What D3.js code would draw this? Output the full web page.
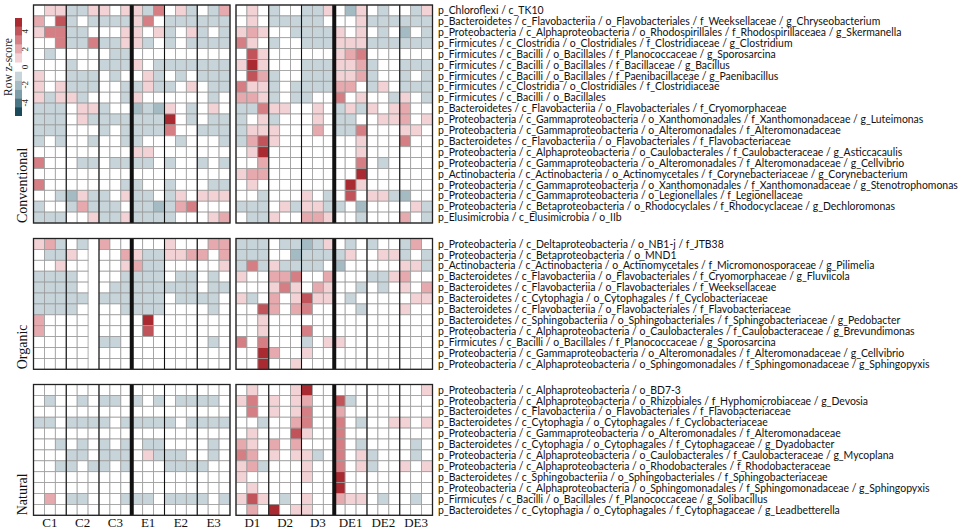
<!DOCTYPE html>
<html>
<head>
<meta charset="utf-8">
<script src="https://cdn.jsdelivr.net/npm/d3@7"></script>
<style>
  body { margin: 0; background: #fff; }
  svg { display: block; }
</style>
</head>
<body>
<script>
// sample groups, 3 replicates each
const leftGroups = ['C1', 'C2', 'C3', 'E1', 'E2', 'E3']
const rightGroups = ['D1', 'D2', 'D3', 'DE1', 'DE2', 'DE3']
const reps = [1, 2, 3]

const legendTicks = [4, 2, 0, -2, -4]

// row z-scores, 18 left samples then 18 right samples per taxon (null = missing)
const conventionalTaxa = [
  'p_Chloroflexi / c_TK10',
  'p_Bacteroidetes / c_Flavobacteriia / o_Flavobacteriales / f_Weeksellaceae / g_Chryseobacterium',
  'p_Proteobacteria / c_Alphaproteobacteria / o_Rhodospirillales / f_Rhodospirillaceaea / g_Skermanella',
  'p_Firmicutes / c_Clostridia / o_Clostridiales / f_Clostridiaceae / g_Clostridium',
  'p_Firmicutes / c_Bacilli / o_Bacillales / f_Planococcaceae / g_Sporosarcina',
  'p_Firmicutes / c_Bacilli / o_Bacillales / f_Bacillaceae / g_Bacillus',
  'p_Firmicutes / c_Bacilli / o_Bacillales / f_Paenibacillaceae / g_Paenibacillus',
  'p_Firmicutes / c_Clostridia / o_Clostridiales / f_Clostridiaceae',
  'p_Firmicutes / c_Bacilli / o_Bacillales',
  'p_Bacteroidetes / c_Flavobacteriia / o_Flavobacteriales / f_Cryomorphaceae',
  'p_Proteobacteria / c_Gammaproteobacteria / o_Xanthomonadales / f_Xanthomonadaceae / g_Luteimonas',
  'p_Proteobacteria / c_Gammaproteobacteria / o_Alteromonadales / f_Alteromonadaceae',
  'p_Bacteroidetes / c_Flavobacteriia / o_Flavobacteriales / f_Flavobacteriaceae',
  'p_Proteobacteria / c_Alphaproteobacteria / o_Caulobacterales / f_Caulobacteraceae / g_Asticcacaulis',
  'p_Proteobacteria / c_Gammaproteobacteria / o_Alteromonadales / f_Alteromonadaceae / g_Cellvibrio',
  'p_Actinobacteria / c_Actinobacteria / o_Actinomycetales / f_Corynebacteriaceae / g_Corynebacterium',
  'p_Proteobacteria / c_Gammaproteobacteria / o_Xanthomonadales / f_Xanthomonadaceae / g_Stenotrophomonas',
  'p_Proteobacteria / c_Gammaproteobacteria / o_Legionellales / f_Legionellaceae',
  'p_Proteobacteria / c_Betaproteobacteria / o_Rhodocyclales / f_Rhodocyclaceae / g_Dechloromonas',
  'p_Elusimicrobia / c_Elusimicrobia / o_IIb',
]
const conventionalZ = [
  [0,1,1,-1,-1,1,1,0,1,1,-1,3,0,1,-1,0,-1,2, 0,1,0,-1,0,0,-1,-1,1,0,-2,1,0,-1,0,0,-1,1],
  [2,0,4,-1,0,-1,-1,-1,-1,1,3,0,-1,-1,-1,-1,-1,-1, 0,1,0,-1,-1,-1,-1,-1,0,0,0,1,-1,-1,-1,-1,-1,-1],
  [1,3,3,-1,-1,0,0,0,1,1,0,1,-1,0,1,-1,0,-1, 1,2,1,0,0,-1,-1,-1,-1,1,0,1,0,-1,0,-2,0,-1],
  [0,0,3,-1,-1,3,-1,-1,1,1,-1,0,-1,0,-1,-1,-1,-1, 3,1,0,-1,0,0,-1,-1,-1,1,1,1,-1,-1,-1,-1,-1,-1],
  [0,-1,0,0,0,0,0,-1,-1,0,0,0,0,0,0,0,0,0, 0,4,1,0,0,0,0,0,0,1,2,3,0,0,0,0,0,0],
  [0,0,0,-1,0,0,-1,-1,-1,1,0,-1,-1,-1,-1,-1,-1,-1, 1,5,1,0,0,0,-1,-1,-1,1,1,2,-1,0,0,-1,-1,-1],
  [1,0,0,-1,-1,-1,0,-1,0,0,1,-1,0,-1,0,-1,-1,-1, 0,4,2,-1,0,0,-1,-1,-1,1,1,2,-1,0,0,-1,0,-1],
  [1,0,1,-1,-1,-1,0,0,-1,-1,1,-1,-1,0,1,0,-1,-1, 3,1,1,-1,0,-1,-1,-1,-1,2,2,0,-1,1,0,-1,-1,-1],
  [1,-1,1,1,-1,0,0,0,-1,1,0,0,0,0,0,0,-1,0, 2,2,1,-1,0,-1,-1,0,0,3,0,1,0,0,-1,1,0,-1],
  [-1,-1,-1,0,1,1,-1,0,0,-2,-1,-2,1,0,-1,0,1,0, -1,-1,3,1,1,0,0,1,0,-1,1,-1,1,0,1,2,0,0],
  [-1,-1,-1,0,1,-1,-1,-1,-1,-1,-1,-1,5,0,-1,0,-1,-1, -1,0,1,-1,0,0,0,1,0,-1,-1,0,0,1,1,2,0,1],
  [-1,-1,-1,0,0,0,-1,0,-1,-1,-1,-1,3,0,0,-1,-1,-1, -1,1,1,1,0,0,0,2,0,-1,-1,3,0,0,0,1,1,0],
  [-1,0,-1,0,0,-1,0,0,-1,-1,0,0,0,-1,0,0,0,-1, -1,2,4,1,0,0,0,0,0,0,0,1,0,0,0,3,0,0],
  [0,0,0,0,0,0,0,0,0,1,1,0,0,0,0,0,0,0, 0,1,5,0,0,0,0,0,0,0,0,1,0,0,0,0,0,0],
  [3,0,0,0,-1,-1,0,-1,-1,-1,-1,0,-1,0,0,-1,0,-1, 0,0,2,0,0,0,0,0,0,0,0,3,0,-1,0,0,0,0],
  [0,0,0,0,0,0,0,0,0,0,0,0,0,0,0,0,0,0, 1,2,2,0,0,0,0,0,0,0,0,5,0,0,0,0,0,0],
  [3,0,0,0,0,0,0,0,-1,-1,0,0,-1,0,0,0,-1,-1, 0,1,0,0,0,0,0,0,0,0,5,1,0,0,0,0,0,0],
  [0,0,-1,-2,1,-1,-1,0,1,-1,-1,0,-1,1,0,1,1,1, 0,0,-1,0,0,0,1,0,-1,0,4,0,1,1,-1,-2,0,0],
  [-1,0,0,-1,2,-1,-1,-1,0,-1,-1,-2,-1,2,3,0,0,0, -1,-1,-1,0,1,-1,1,1,-1,-1,0,-2,0,0,0,0,1,-1],
  [-1,-1,-1,0,0,1,-1,-1,1,-1,-1,-1,-1,0,0,0,1,2, 0,-1,-1,1,0,0,2,2,1,0,0,-1,0,0,0,2,0,-1],
]

const organicTaxa = [
  'p_Proteobacteria / c_Deltaproteobacteria / o_NB1-j / f_JTB38',
  'p_Proteobacteria / c_Betaproteobacteria / o_MND1',
  'p_Actinobacteria / c_Actinobacteria / o_Actinomycetales / f_Micromonosporaceae / g_Pilimelia',
  'p_Bacteroidetes / c_Flavobacteriia / o_Flavobacteriales / f_Cryomorphaceae / g_Fluviicola',
  'p_Bacteroidetes / c_Flavobacteriia / o_Flavobacteriales / f_Weeksellaceae',
  'p_Bacteroidetes / c_Cytophagia / o_Cytophagales / f_Cyclobacteriaceae',
  'p_Bacteroidetes / c_Flavobacteriia / o_Flavobacteriales / f_Flavobacteriaceae',
  'p_Bacteroidetes / c_Sphingobacteriia / o_Sphingobacteriales / f_Sphingobacteriaceae / g_Pedobacter',
  'p_Proteobacteria / c_Alphaproteobacteria / o_Caulobacterales / f_Caulobacteraceae / g_Brevundimonas',
  'p_Firmicutes / c_Bacilli / o_Bacillales / f_Planococcaceae / g_Sporosarcina',
  'p_Proteobacteria / c_Gammaproteobacteria / o_Alteromonadales / f_Alteromonadaceae / g_Cellvibrio',
  'p_Proteobacteria / c_Alphaproteobacteria / o_Sphingomonadales / f_Sphingomonadaceae / g_Sphingopyxis',
]
const organicZ = [
  [1,2,-1,0,-1,null,2,0,0,0,0,0,1,0,0,0,2,2, -1,-1,-1,0,-1,-1,-2,-1,1,0,-1,0,-1,0,0,-1,2,0],
  [0,-1,-1,1,0,null,0,0,2,1,-1,-1,1,1,2,2,0,2, -1,-1,-1,0,0,-2,-1,-1,-1,-1,1,0,0,1,1,-1,0,-1],
  [0,0,1,0,0,null,0,0,1,2,-1,-1,0,0,0,0,0,1, -1,3,-1,1,-1,-1,-1,-1,0,-2,0,0,0,0,0,1,1,-1],
  [-1,-1,-1,-1,0,null,0,0,-1,-1,-1,-1,0,-1,-1,0,-1,0, 1,0,0,2,2,3,0,0,2,0,0,0,-1,-1,1,2,0,0],
  [-1,-1,-1,-1,0,null,0,-1,-1,-1,-1,-1,-1,-1,-1,0,-1,-1, 0,0,0,1,3,1,0,2,1,0,0,-1,0,-1,0,1,0,2],
  [-1,-1,-1,-1,-1,null,-1,-1,-1,-1,-1,-1,0,-1,-1,-1,-1,0, 1,-1,0,2,0,1,4,1,1,0,-1,0,0,0,0,0,1,1],
  [-1,-1,-1,-1,0,null,0,0,-1,-1,-1,-1,0,0,0,0,-1,0, 0,0,4,2,0,2,3,0,0,0,0,-1,0,0,0,1,0,0],
  [2,0,0,0,0,null,0,0,0,0,5,0,0,0,0,0,0,0, 0,0,1,0,0,0,0,0,0,0,0,0,0,0,0,0,0,0],
  [2,0,0,0,0,null,0,0,0,0,4,0,0,0,0,0,0,0, 0,0,1,0,0,0,3,0,0,0,0,0,0,0,0,0,0,0],
  [0,0,0,0,0,null,-1,-1,0,0,0,0,0,0,0,0,-1,0, 3,0,3,0,0,0,-1,0,1,1,0,0,0,0,0,0,0,0],
  [0,0,0,0,0,null,0,0,0,0,0,0,0,0,0,0,0,0, 0,0,5,2,0,0,1,0,0,0,0,0,0,0,0,0,0,0],
  [0,0,0,0,0,null,0,0,0,0,0,0,0,0,0,0,0,0, 0,0,5,0,0,1,0,0,0,0,0,0,0,0,0,0,0,0],
]

const naturalTaxa = [
  'p_Proteobacteria / c_Alphaproteobacteria / o_BD7-3',
  'p_Proteobacteria / c_Alphaproteobacteria / o_Rhizobiales / f_Hyphomicrobiaceae / g_Devosia',
  'p_Bacteroidetes / c_Flavobacteriia / o_Flavobacteriales / f_Flavobacteriaceae',
  'p_Bacteroidetes / c_Cytophagia / o_Cytophagales / f_Cyclobacteriaceae',
  'p_Proteobacteria / c_Gammaproteobacteria / o_Alteromonadales / f_Alteromonadaceae',
  'p_Bacteroidetes / c_Cytophagia / o_Cytophagales / f_Cytophagaceae / g_Dyadobacter',
  'p_Proteobacteria / c_Alphaproteobacteria / o_Caulobacterales / f_Caulobacteraceae / g_Mycoplana',
  'p_Proteobacteria / c_Alphaproteobacteria / o_Rhodobacterales / f_Rhodobacteraceae',
  'p_Bacteroidetes / c_Sphingobacteriia / o_Sphingobacteriales / f_Sphingobacteriaceae',
  'p_Proteobacteria / c_Alphaproteobacteria / o_Sphingomonadales / f_Sphingomonadaceae / g_Sphingopyxis',
  'p_Firmicutes / c_Bacilli / o_Bacillales / f_Planococcaceae / g_Solibacillus',
  'p_Bacteroidetes / c_Cytophagia / o_Cytophagales / f_Cytophagaceae / g_Leadbetterella',
]
const naturalZ = [
  [0,0,0,0,0,0,0,0,0,0,0,0,0,0,0,0,0,0, 0,1,0,0,0,1,5,0,0,0,0,0,0,0,0,0,0,1],
  [0,-1,0,0,-1,0,-1,-1,0,-1,0,-1,0,-1,-1,-1,-1,0, 1,3,0,1,0,1,2,0,0,4,-1,0,0,0,0,0,0,0],
  [0,0,0,0,0,0,0,0,0,0,0,0,0,0,0,0,0,0, 0,3,0,1,0,1,3,0,0,2,0,0,0,0,0,0,0,0],
  [-1,-1,0,-1,-1,-1,-1,0,-1,-1,-1,-1,-1,0,-1,-1,-1,-1, 0,0,-1,0,0,2,3,0,0,3,0,-1,0,0,1,1,0,1],
  [0,0,0,0,0,0,0,0,0,0,0,0,0,0,0,0,0,0, 0,1,0,0,0,4,1,0,0,3,0,0,0,0,0,0,0,0],
  [0,0,-1,0,-1,0,-1,0,-1,0,-1,-1,0,0,0,0,-1,0, 2,1,0,2,0,2,0,0,0,3,0,-1,0,0,0,0,-1,0],
  [0,0,0,-1,-1,0,-1,-1,-1,0,1,-1,-1,-1,0,0,-1,0, 3,2,0,1,0,1,1,-1,0,3,0,1,-1,0,0,0,-1,0],
  [0,0,-1,-1,0,-1,-1,0,-1,0,0,0,-1,-1,-1,-1,0,0, 1,2,-1,0,0,0,1,0,0,3,0,1,-1,0,0,1,0,1],
  [0,0,0,0,0,0,0,0,0,0,0,0,0,0,0,0,0,0, 1,0,0,0,0,0,1,0,0,5,0,0,0,0,0,0,0,0],
  [0,0,0,0,0,0,0,0,0,0,0,0,0,0,0,0,0,0, 0,1,0,0,0,0,0,0,0,5,0,0,0,0,0,0,0,0],
  [0,2,0,-1,-1,0,0,0,-1,-1,-1,0,-1,-1,-1,-1,0,-1, 1,4,1,0,-1,0,1,0,0,2,1,1,0,-1,0,0,-1,0],
  [0,0,0,0,0,0,0,0,0,0,0,0,0,0,0,0,0,0, 0,2,0,5,0,1,1,0,0,0,0,0,0,0,0,0,0,0],
]

const panels = [
  { name: 'Conventional', taxa: conventionalTaxa, z: conventionalZ, top: 5 },
  { name: 'Organic', taxa: organicTaxa, z: organicZ, top: 238.5 },
  { name: 'Natural', taxa: naturalTaxa, z: naturalZ, top: 384.5 },
]

const width = 963
const height = 532
const cell = 10.9
const serif = '"Liberation Serif", "Times New Roman", serif'
const sans = 'Lato, "Open Sans", sans-serif'

const colors = [
  '#1b4b5a', '#4a7584', '#7d9ea9', '#a4bbc4', '#c7d5db',
  '#ffffff',
  '#f3d2d5', '#e6aaae', '#d57f84', '#c1545a', '#a92a31',
]
const color = d3.scaleQuantize().domain([-5.5, 5.5]).range(colors)

const samples = (groups) => groups.flatMap((g) => reps.map((r) => g + '_' + r))
const xLeft = d3.scaleBand().domain(samples(leftGroups)).range([33.5, 230])
const xRight = d3.scaleBand().domain(samples(rightGroups)).range([236, 432.5])
const blocks = [
  { groups: leftGroups, x: xLeft, offset: 0 },
  { groups: rightGroups, x: xRight, offset: 18 },
]

const svg = d3
  .select('body')
  .append('svg')
  .attr('width', width)
  .attr('height', height)

panels.forEach((p) => {
  const y = d3
    .scaleBand()
    .domain(d3.range(p.taxa.length))
    .range([p.top, p.top + p.taxa.length * cell])
  const g = svg.append('g')

  blocks.forEach((b) => {
    const cols = b.x.domain()
    const cells = []
    p.z.forEach((row, i) => {
      cols.forEach((s, j) => {
        const v = row[b.offset + j]
        if (v !== null) cells.push({ i, s, v })
      })
    })
    g.selectAll(null)
      .data(cells)
      .enter()
      .append('rect')
      .attr('x', (d) => b.x(d.s))
      .attr('y', (d) => y(d.i))
      .attr('width', b.x.bandwidth())
      .attr('height', y.bandwidth())
      .attr('fill', (d) => color(d.v))
      .attr('stroke', '#9c9c9c')
      .attr('stroke-width', 0.8)

    // group separators
    b.groups.forEach((grp, k) => {
      if (k === 0) return
      const gx = b.x(grp + '_1')
      g.append('line')
        .attr('x1', gx)
        .attr('x2', gx)
        .attr('y1', y.range()[0])
        .attr('y2', y.range()[1])
        .attr('stroke', '#111')
        .attr('stroke-width', k === 3 ? 4 : 1.1)
    })

    g.append('rect')
      .attr('x', b.x.range()[0])
      .attr('y', y.range()[0])
      .attr('width', b.x.range()[1] - b.x.range()[0])
      .attr('height', y.range()[1] - y.range()[0])
      .attr('fill', 'none')
      .attr('stroke', '#222')
      .attr('stroke-width', 1.3)
  })

  g.selectAll('text.taxon')
    .data(p.taxa)
    .enter()
    .append('text')
    .attr('class', 'taxon')
    .attr('x', 438)
    .attr('y', (d, i) => y(i) + y.bandwidth() / 2)
    .attr('dy', '0.35em')
    .style('font-family', sans)
    .style('font-size', '10.45px')
    .attr('fill', '#111')
    .text((d) => d)

  g.append('text')
    .attr('transform', `translate(26.5, ${y.range()[1]}) rotate(-90)`)
    .style('font-family', serif)
    .style('font-size', '14px')
    .attr('fill', '#111')
    .text(p.name)
})

// sample group labels along the bottom
blocks.forEach((b) => {
  svg
    .selectAll(null)
    .data(b.groups)
    .enter()
    .append('text')
    .attr('x', (d) => b.x(d + '_2') + b.x.bandwidth() / 2)
    .attr('y', 527)
    .attr('text-anchor', 'middle')
    .style('font-family', serif)
    .style('font-size', '13px')
    .attr('fill', '#111')
    .text((d) => d)
})

// colour key
const ly = d3.scaleLinear().domain([5.5, -5.5]).range([18, 116])
const key = svg.append('g')
key
  .selectAll('rect')
  .data(d3.range(-5, 6))
  .enter()
  .append('rect')
  .attr('x', 15)
  .attr('y', (d) => ly(d + 0.5))
  .attr('width', 7)
  .attr('height', ly(-0.5) - ly(0.5))
  .attr('fill', (d) => color(d))
key
  .selectAll('text')
  .data(legendTicks)
  .enter()
  .append('text')
  .attr('transform', (d) => `translate(28, ${ly(d)}) rotate(-90)`)
  .attr('text-anchor', 'middle')
  .style('font-family', serif)
  .style('font-size', '9px')
  .attr('fill', '#222')
  .text((d) => d)
key
  .append('text')
  .attr('transform', `translate(12, ${ly(0)}) rotate(-90)`)
  .attr('text-anchor', 'middle')
  .style('font-family', serif)
  .style('font-size', '11.5px')
  .attr('fill', '#222')
  .text('Row z-score')
</script>
</body>
</html>
